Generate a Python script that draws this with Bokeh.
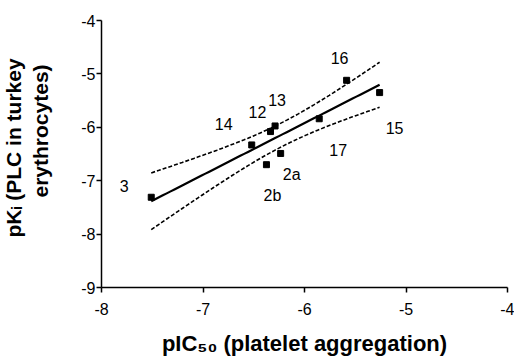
import math
import numpy as np
from bokeh.plotting import figure
from bokeh.models import Range1d, FixedTicker, Title, ColumnDataSource
from bokeh.core.properties import value
from bokeh.embed import file_html
from bokeh.resources import INLINE

# Data
compounds = ["3", "14", "12", "13", "2b", "2a", "17", "16", "15"]
pic50 = [-7.51, -6.52, -6.335, -6.29, -6.375, -6.235, -5.855, -5.585, -5.26]
pki = [-7.31, -6.33, -6.08, -5.975, -6.70, -6.49, -5.84, -5.12, -5.35]
x_ticks = [-8, -7, -6, -5, -4]
y_ticks = [-9, -8, -7, -6, -5, -4]

# label offsets in screen pixels (style, not data)
lab_dx = [-27, -28, -13, 2, 6, 11, 19, -7, 15]
lab_dy = [-11, -21, -20, -26, 31, 21, 31, -22, 35]

FONT = "Liberation Sans"

# linear regression with 95% confidence bands
x = np.array(pic50)
y = np.array(pki)
n = len(x)
xm, ym = x.mean(), y.mean()
sxx = ((x - xm) ** 2).sum()
slope = ((x - xm) * (y - ym)).sum() / sxx
icpt = ym - slope * xm
resid = y - (icpt + slope * x)
s = math.sqrt((resid ** 2).sum() / (n - 2))
t = 2.365  # t(0.975, df=7)
xs = np.linspace(x.min(), x.max(), 60)
ys = icpt + slope * xs
hw = t * s * np.sqrt(1.0 / n + (xs - xm) ** 2 / sxx)

p = figure(width=514, height=358, output_backend="svg", toolbar_location=None,
           x_range=Range1d(-8, -4), y_range=Range1d(-9, -4),
           min_border_left=100, min_border_right=7, min_border_top=20,
           min_border_bottom=68)
p.outline_line_color = None
p.grid.visible = False
p.background_fill_color = "white"
p.border_fill_color = "white"

for ax in (p.xaxis[0], p.yaxis[0]):
    ax.axis_line_width = 1.5
    ax.axis_line_color = "black"
    ax.major_tick_line_width = 1.5
    ax.major_tick_line_color = "black"
    ax.major_tick_in = 0
    ax.major_tick_out = 5
    ax.minor_tick_line_color = None
    ax.major_label_text_font = FONT
    ax.major_label_text_font_size = "16px"
    ax.major_label_text_color = "black"
p.xaxis.major_label_standoff = 10
p.yaxis.major_label_standoff = 1
p.xaxis.ticker = FixedTicker(ticks=x_ticks)
p.yaxis.ticker = FixedTicker(ticks=y_ticks)
p.xaxis.major_label_overrides = {v: str(v) for v in x_ticks}
p.yaxis.major_label_overrides = {v: str(v) for v in y_ticks}

p.xaxis.axis_label = "pIC\u2085\u2080 (platelet aggregation)"
p.xaxis.axis_label_text_font = FONT
p.xaxis.axis_label_text_font_size = "22px"
p.xaxis.axis_label_text_font_style = "bold"
p.xaxis.axis_label_text_color = "black"
p.xaxis.axis_label_standoff = 13

# spacer between y tick labels and the y title
p.yaxis.axis_label = " "
p.yaxis.axis_label_text_font_size = "1px"
p.yaxis.axis_label_standoff = 20

p.line(xs, ys, line_color="black", line_width=2.2)
p.line(xs, ys + hw, line_color="black", line_width=1.6, line_dash="4 2")
p.line(xs, ys - hw, line_color="black", line_width=1.6, line_dash="4 2")
p.scatter(pic50, pki, marker="square", size=6, color="black")

src = ColumnDataSource(dict(x=pic50, y=pki, t=compounds, dx=lab_dx, dy=lab_dy))
p.text(x="x", y="y", text="t", x_offset="dx", y_offset="dy", source=src,
       text_font=value(FONT), text_font_size="16px", text_color="black",
       text_align="center", text_baseline="middle")

tkw = dict(text_font=FONT, text_font_size="21px", text_font_style="bold",
           text_color="black", background_fill_color=None, align="left",
           vertical_align="middle")
p.add_layout(Title(text="erythrocytes)", offset=90, standoff=4, **tkw), "left")
p.add_layout(Title(text="pK\u1d62 (PLC in turkey", offset=50, standoff=0, **tkw), "left")

open("out.html", "w").write(file_html(p, INLINE))
